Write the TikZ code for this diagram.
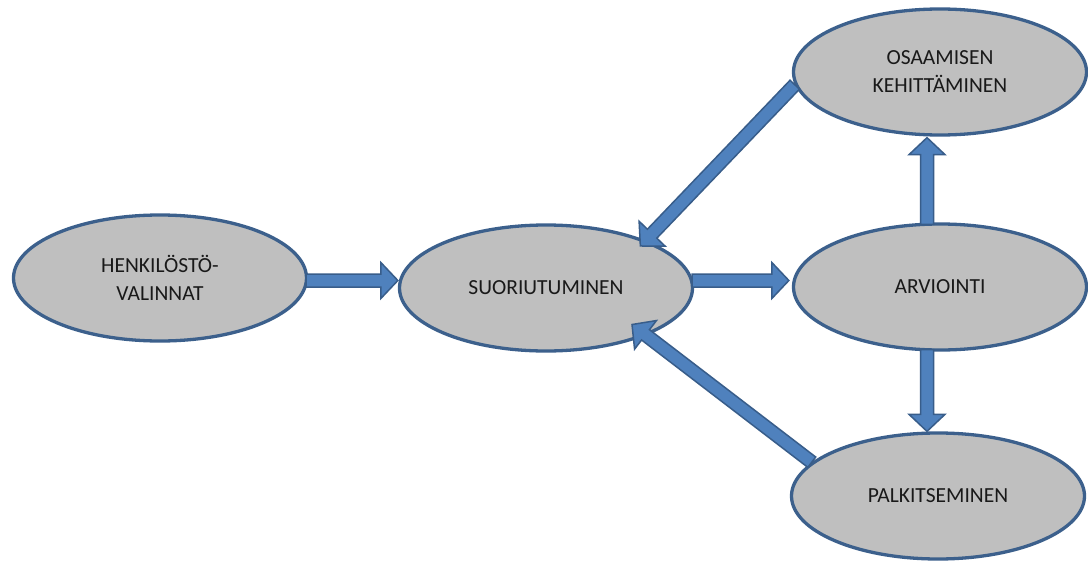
\documentclass[tikz,border=0pt]{standalone}
\usepackage{fontspec}
\setmainfont{Carlito}
\usetikzlibrary{calc,shapes.geometric}
\definecolor{ellfill}{RGB}{191,191,191}
\definecolor{ellborder}{RGB}{60,96,140}
\definecolor{arrfill}{RGB}{79,129,189}
\definecolor{arrborder}{RGB}{56,93,138}
\newcommand\blockarrow[2]{%
  \coordinate (babase) at ($(#2)!17pt!(#1)$);
  \draw[blockarrowstyle]
    ($(#1)!6.5pt!90:(#2)$) -- ($(babase)!6.5pt!90:(#2)$) -- ($(babase)!18pt!90:(#2)$)
    -- (#2) -- ($(babase)!18pt!-90:(#2)$) -- ($(babase)!6.5pt!-90:(#2)$)
    -- ($(#1)!6.5pt!-90:(#2)$) -- cycle;}
\tikzset{
  ell/.style={ellipse, draw=ellborder, line width=3.3pt, fill=ellfill,
    minimum width=293pt, minimum height=126pt, inner sep=0pt, align=center,
    text=black!90, font=\fontsize{21.5}{28}\selectfont},
  blockarrowstyle/.style={draw=arrborder, fill=arrfill, line width=1.5pt, line join=miter}
}
\begin{document}
\begin{tikzpicture}[x=1pt,y=-1pt]
\useasboundingbox[fill=white] (0,0) rectangle (1088,562);
\node[ell] (henk) at (160,278) {HENKILÖSTÖ-\\VALINNAT};
\node[ell] (suor) at (546,288) {SUORIUTUMINEN};
\node[ell] (osa) at (940,72) {OSAAMISEN\\KEHITTÄMINEN};
\node[ell] (arv) at (940,287) {ARVIOINTI};
\node[ell] (palk) at (938,496) {PALKITSEMINEN};
% connectors
\coordinate (a1t) at ($(henk.east)+(-2,2.5)$);
\coordinate (a1h) at (suor.west |- a1t);
\blockarrow{a1t}{a1h}
\coordinate (a2t) at ($(suor.east)+(-2,-7.5)$);
\coordinate (a2h) at ($(arv.west |- a2t)+(-3,0)$);
\blockarrow{a2t}{a2h}
\coordinate (a3t) at ($(arv.north)+(-13,2)$);
\coordinate (a3h) at ($(a3t |- osa.south)+(0,1)$);
\blockarrow{a3t}{a3h}
\coordinate (a4t) at ($(arv.south)+(-13,-2)$);
\coordinate (a4h) at (a4t |- palk.north);
\blockarrow{a4t}{a4h}
\coordinate (a5t) at (osa.185.6);
\coordinate (a5h) at ($(suor.center)!0.91!(suor.24)$);
\blockarrow{a5t}{a5h}
\coordinate (a6t) at (palk.165.6);
\coordinate (a6h) at ($(suor.center)!0.81!(suor.-23)$);
\blockarrow{a6t}{a6h}
\end{tikzpicture}
\end{document}
